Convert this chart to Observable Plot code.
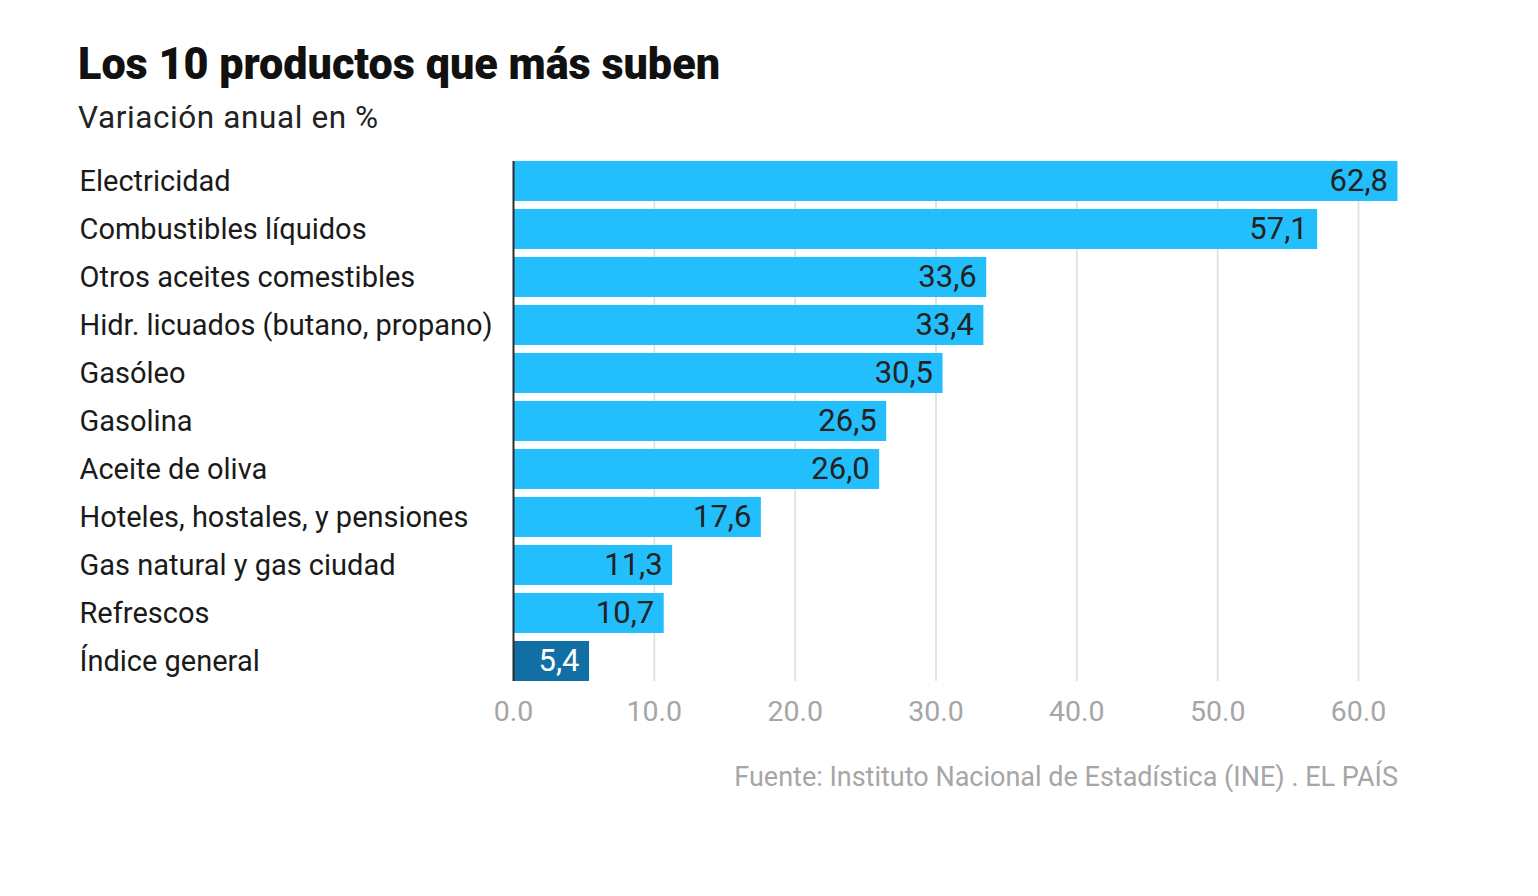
<!DOCTYPE html>
<html>
<head>
<meta charset="utf-8">
<script src="https://cdn.jsdelivr.net/npm/d3@7"></script>
<script src="https://cdn.jsdelivr.net/npm/@observablehq/plot@0.6"></script>
<style>
  body { margin: 0; background: #fff; font-family: Roboto, "Liberation Sans", sans-serif; }
  #wrap { position: relative; width: 1538px; height: 896px; }
  #title { position: absolute; left: 78px; top: 37px; font-family: Roboto, sans-serif; font-weight: 900; font-size: 45px; color: #111; white-space: nowrap; transform-origin: left center; }
  #subtitle { position: absolute; left: 78px; top: 99px; font-size: 31.5px; letter-spacing: 0.6px; color: #222; white-space: nowrap; }
  #chart { position: absolute; left: 0; top: 140px; }
  #caption { position: absolute; right: 140px; top: 761px; font-size: 27px; color: #a6a6a6; white-space: nowrap; }
</style>
</head>
<body>
<div id="wrap">
  <div id="title">Los 10 productos que más suben</div>
  <div id="subtitle">Variación anual en %</div>
  <div id="chart"></div>
  <div id="caption">Fuente: Instituto Nacional de Estadística (INE) . EL PAÍS</div>
</div>
<script>
const categories = [
  "Electricidad",
  "Combustibles líquidos",
  "Otros aceites comestibles",
  "Hidr. licuados (butano, propano)",
  "Gasóleo",
  "Gasolina",
  "Aceite de oliva",
  "Hoteles, hostales, y pensiones",
  "Gas natural y gas ciudad",
  "Refrescos",
  "Índice general"
];
const values = [62.8, 57.1, 33.6, 33.4, 30.5, 26.5, 26.0, 17.6, 11.3, 10.7, 5.4];
const highlight = "Índice general";
const xTicks = [0, 10, 20, 30, 40, 50, 60];

const data = categories.map((c, i) => ({category: c, value: values[i], hl: c === highlight}));

// condense the title to the reference width
const t = document.getElementById("title");
const tw = t.getBoundingClientRect().width;
t.style.transform = `scaleX(${642 / tw})`;

const marginLeft = 513;
const plot = Plot.plot({
  width: 1538,
  height: 600,
  marginLeft,
  marginRight: 180,
  marginTop: 13,
  marginBottom: 51,
  style: {fontFamily: "Roboto, sans-serif", background: "transparent"},
  x: {domain: [0, 60], ticks: xTicks, tickFormat: d => d.toFixed(1), label: null},
  y: {domain: categories, padding: 0.167, round: false, label: null},
  marks: [
    Plot.ruleX(xTicks.filter(d => d > 0), {stroke: "#e3e3e3", strokeWidth: 2, insetTop: 8, insetBottom: 8}),
    Plot.barX(data, {y: "category", x: "value", fill: d => d.hl ? "#116fa3" : "#22bffc"}),
    Plot.ruleX([0], {stroke: "#2b2b2b", strokeWidth: 2, insetTop: 8, insetBottom: 8}),
    Plot.text(data, {
      y: "category", x: "value",
      text: d => d.value.toFixed(1).replace(".", ","),
      textAnchor: "end", dx: -10,
      fill: d => d.hl ? "#ffffff" : "#222222",
      fontSize: 31
    }),
    Plot.text(data, {
      y: "category", text: "category",
      frameAnchor: "left", textAnchor: "start", dx: 79 - marginLeft,
      fill: "#1a1a1a", fontSize: 29
    }),
    Plot.axisX({ticks: xTicks, tickFormat: d => d.toFixed(1), tickSize: 0, tickPadding: 11, fontSize: 28.5, color: "#a6a6a6", label: null}),
    Plot.axisY({ticks: [], label: null, tickSize: 0})
  ]
});
document.getElementById("chart").appendChild(plot);
</script>
</body>
</html>
